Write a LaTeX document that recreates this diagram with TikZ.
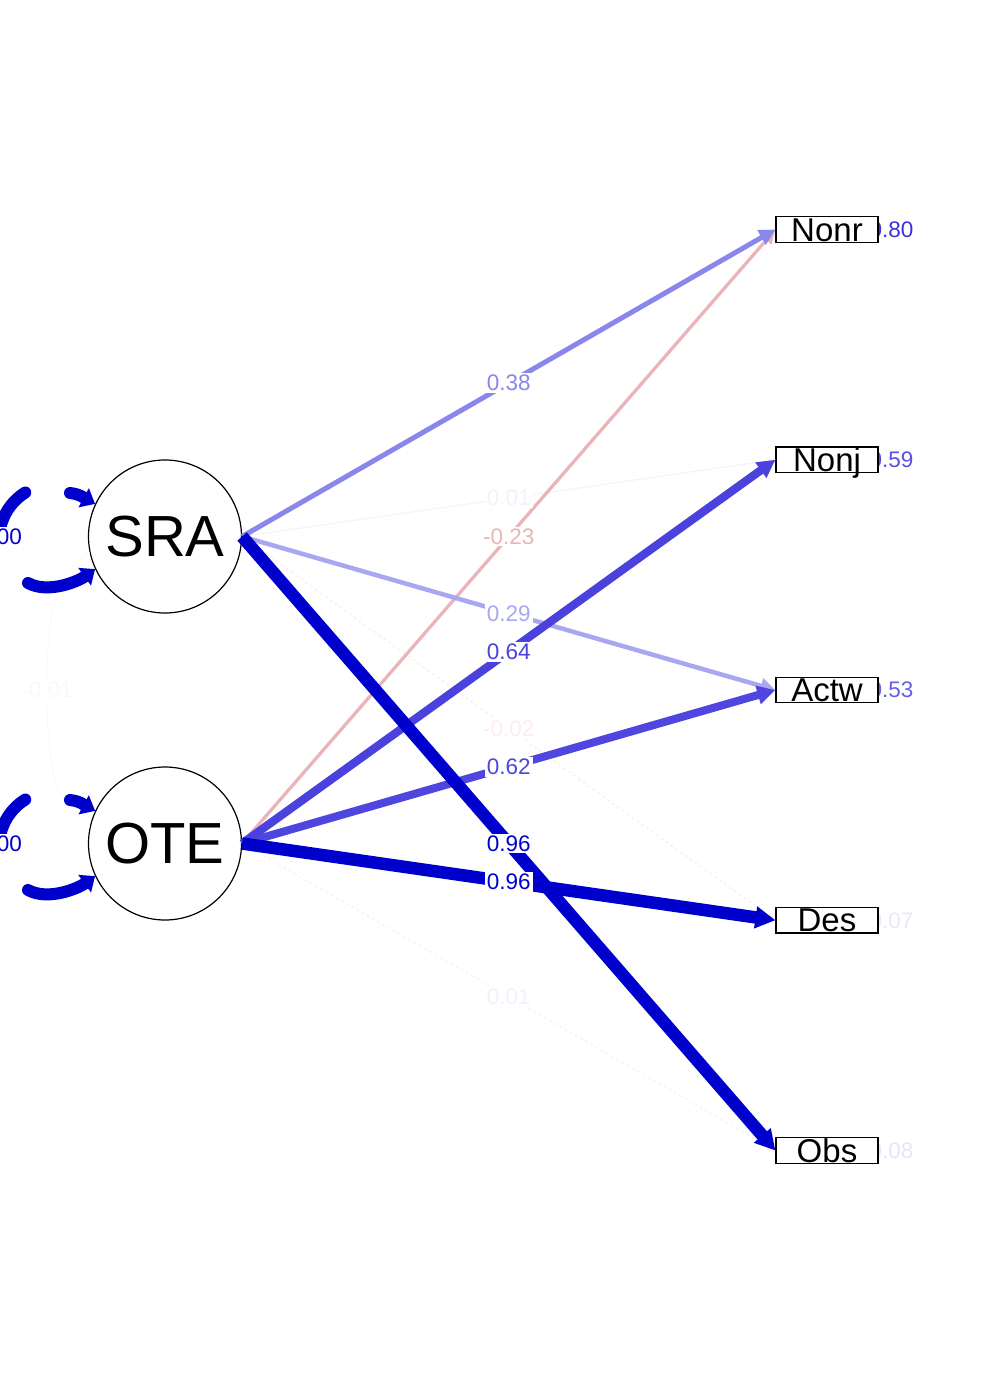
\documentclass[tikz,border=0pt]{standalone}
\usepackage{fontspec}
\setmainfont{Liberation Sans}
\usetikzlibrary{arrows.meta}
\definecolor{cA}{HTML}{0000CC}
\definecolor{cB}{HTML}{4B41DD}
\definecolor{cC}{HTML}{4E46DE}
\definecolor{cD}{HTML}{8A87EC}
\definecolor{cE}{HTML}{A9A7F1}
\definecolor{cN}{HTML}{E9B5B9}
\definecolor{cF}{HTML}{F2F2FC}
\definecolor{cG}{HTML}{FBE9EC}
\definecolor{cH}{HTML}{F7EEF4}
\definecolor{cI}{HTML}{FCF8F8}
\definecolor{rA}{HTML}{3A30DF}
\definecolor{rB}{HTML}{5850E2}
\definecolor{rC}{HTML}{6660E5}
\definecolor{rD}{HTML}{E8E8FB}
\definecolor{rE}{HTML}{E5E5FA}
\begin{document}
\begin{tikzpicture}[x=1pt,y=-1pt,
  lat/.style={circle,draw,line width=1.2pt,minimum size=153pt,inner sep=0pt,fill=white,font=\fontsize{58}{58}\selectfont},
  man/.style={rectangle,draw,line width=1.2pt,minimum width=102pt,minimum height=25.5pt,inner sep=0pt,fill=white},
  mant/.style={anchor=base,inner sep=0pt,font=\fontsize{33}{33}\selectfont},
  lab/.style={fill=white,inner sep=2pt,font=\fontsize{22.5}{22.5}\selectfont},
  rlab/.style={inner sep=0pt,font=\fontsize{22.5}{22.5}\selectfont},
  ed/.style={line cap=butt},
  loopline/.style={draw=cA,line width=12pt,line cap=round}]
\useasboundingbox (0,0) rectangle (992,1381);

% residual labels (behind boxes)
\node[rlab,text=rA] (r1) at (891.5,229.5) {0.80};
\node[rlab,text=rB] (r2) at (891.5,459.75) {0.59};
\node[rlab,text=rC] (r3) at (891.5,690) {0.53};
\node[rlab,text=rD] (r4) at (891.5,920.25) {0.07};
\node[rlab,text=rE] (r5) at (891.5,1150.5) {0.08};

% latent nodes
\node[lat] (SRA) at (165,536.5) {SRA};
\node[lat] (OTE) at (165,843.5) {OTE};

% manifest nodes
\node[man] (Nonr) at (827,229.5) {};
\node[man] (Nonj) at (827,459.75) {};
\node[man] (Actw) at (827,690) {};
\node[man] (Des) at (827,920.25) {};
\node[man] (Obs) at (827,1150.5) {};
\node[mant] (Nonrt) at (827,241) {Nonr};
\node[mant] (Nonjt) at (827,471) {Nonj};
\node[mant] (Actwt) at (827,701.5) {Actw};
\node[mant] (Dest) at (827,931.5) {Des};
\node[mant] (Obst) at (827,1162) {Obs};

% covariance between latents
\draw[draw=cI,line width=1pt] (SRA.192) .. controls (55,575) and (47,610) .. (47,690) coordinate (mc)
  .. controls (47,770) and (55,805) .. (OTE.168);

% loops on latents
\foreach \n/\yy in {SRA/536.5,OTE/843.5}{
  \draw[loopline] (25.3,{\yy-44}) .. controls (8.9,{\yy-33.8}) and (-1,{\yy-15.8}) .. (-1,{\yy+3.5});
  \draw[loopline,-{Triangle[length=13pt,width=21pt]}] (70,{\yy-43.5}) .. controls (80,{\yy-42.5}) and (86,{\yy-37.5}) .. (\n.155);
  \draw[loopline,-{Triangle[length=13pt,width=21pt]}] (28,{\yy+46.5}) .. controls (48,{\yy+57.5}) and (78,{\yy+45}) .. (\n.205);
}

% edges, weakest first
\draw[ed,draw=cF,line width=1pt,-{Triangle[length=8pt,width=7pt]}] (SRA.east) -- (Nonj.west) coordinate[pos=.5] (m1);
\draw[ed,draw=cH,line width=1pt,dashed,-{Triangle[length=8pt,width=7pt]}] (OTE.east) -- (Obs.west) coordinate[pos=.5] (m2);
\draw[ed,draw=cG,line width=1pt,dashed,-{Triangle[length=8pt,width=7pt]}] (SRA.east) -- (Des.west) coordinate[pos=.5] (m3);
\draw[ed,draw=cN,line width=3.3pt,-{Triangle[length=14pt,width=13pt]}] (OTE.east) -- (Nonr.west) coordinate[pos=.5] (m4);
\draw[ed,draw=cE,line width=4.5pt,-{Triangle[length=15pt,width=15pt]}] (SRA.east) -- (Actw.west) coordinate[pos=.5] (m5);
\draw[ed,draw=cD,line width=5pt,-{Triangle[length=16pt,width=16pt]}] (SRA.east) -- (Nonr.west) coordinate[pos=.5] (m6);
\draw[ed,draw=cC,line width=8pt,-{Triangle[length=18pt,width=18pt]}] (OTE.east) -- (Actw.west) coordinate[pos=.5] (m7);
\draw[ed,draw=cB,line width=8.3pt,-{Triangle[length=18pt,width=18pt]}] (OTE.east) -- (Nonj.west) coordinate[pos=.5] (m8);
\draw[ed,draw=cA,line width=12.5pt,-{Triangle[length=20pt,width=21pt]}] (OTE.east) -- (Des.west) coordinate[pos=.5] (m9);
\draw[ed,draw=cA,line width=12.5pt,-{Triangle[length=20pt,width=21pt]}] (SRA.east) -- (Obs.west) coordinate[pos=.5] (m10);

% edge labels
\node[lab,text=cI] (lc) at (mc) {-0.01};
\node[lab,text=cA] (lpS) at (0,537) {1.00};
\node[lab,text=cA] (lpO) at (0,844) {1.00};
\node[lab,text=cF] (l1) at (m1) {0.01};
\node[lab,text=cF] (l2) at (m2) {0.01};
\node[lab,text=cG!80!white] (l3) at (m3) {-0.02};
\node[lab,text=cN] (l4) at (m4) {-0.23};
\node[lab,text=cE] (l5) at (m5) {0.29};
\node[lab,text=cD] (l6) at (m6) {0.38};
\node[lab,text=cC] (l7) at (m7) {0.62};
\node[lab,text=cB] (l8) at (m8) {0.64};
\node[lab,text=cA] (l9) at (m9) {0.96};
\node[lab,text=cA] (l10) at (m10) {0.96};
\end{tikzpicture}
\end{document}
